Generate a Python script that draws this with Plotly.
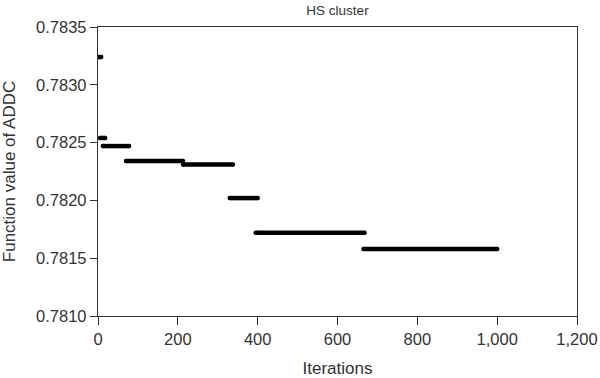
import plotly.graph_objects as go

# step segments of the best ADDC value found
seg_start = [1, 5, 12, 70, 213, 330, 395, 665]
seg_end = [8, 18, 78, 213, 338, 400, 668, 1000]
seg_value = [0.78324, 0.78254, 0.78247, 0.78234, 0.78231, 0.78202, 0.78172, 0.78158]

x_ticks = [0, 200, 400, 600, 800, 1000, 1200]
x_tick_text = ["0", "200", "400", "600", "800", "1,000", "1,200"]
y_ticks = [0.7810, 0.7815, 0.7820, 0.7825, 0.7830, 0.7835]

xs, ys = [], []
for s, e, v in zip(seg_start, seg_end, seg_value):
    xs += [s, e, None]
    ys += [v, v, None]

fig = go.Figure()
fig.add_trace(go.Scatter(x=xs, y=ys, mode="lines+markers",
                         line=dict(color="black", width=4.5),
                         marker=dict(color="black", size=4.5, symbol="circle"),
                         showlegend=False, hoverinfo="skip"))

font = "Liberation Sans, Arial, sans-serif"
axis_color = "#333333"
fig.update_layout(
    width=600, height=378,
    margin=dict(l=98, r=23, t=27, b=62),
    paper_bgcolor="white", plot_bgcolor="white",
    font=dict(family=font, color="#333333"),
    title=dict(text="HS cluster", x=337.5 / 600, xanchor="center",
               y=1 - 10 / 378, yanchor="middle",
               font=dict(size=13.5, family=font, color="#333333")),
    xaxis=dict(range=[0, 1200], tickvals=x_ticks, ticktext=x_tick_text,
               automargin=False,
               showgrid=False, zeroline=False,
               showline=True, linecolor=axis_color, linewidth=1.3, mirror=True,
               ticks="outside", ticklen=8, tickcolor=axis_color, tickwidth=1.3,
               tickfont=dict(size=16.5, family=font, color="#333333"),
               title=dict(text="Iterations", standoff=17,
                          font=dict(size=17, family=font, color="#333333"))),
    yaxis=dict(range=[0.7810, 0.7835], tickvals=y_ticks, tickformat=".4f",
               automargin=False,
               showgrid=False, zeroline=False,
               showline=True, linecolor=axis_color, linewidth=1.3, mirror=True,
               ticks="outside", ticklen=7, tickcolor=axis_color, tickwidth=1.3,
               tickfont=dict(size=16.5, family=font, color="#333333"),
               title=dict(text="Function value of ADDC", standoff=16,
                          font=dict(size=17, family=font, color="#333333"))),
)

fig.write_html("out.html",
               config={"displayModeBar": False},
               post_script="document.body.style.margin='0';document.body.style.overflow='hidden';")
